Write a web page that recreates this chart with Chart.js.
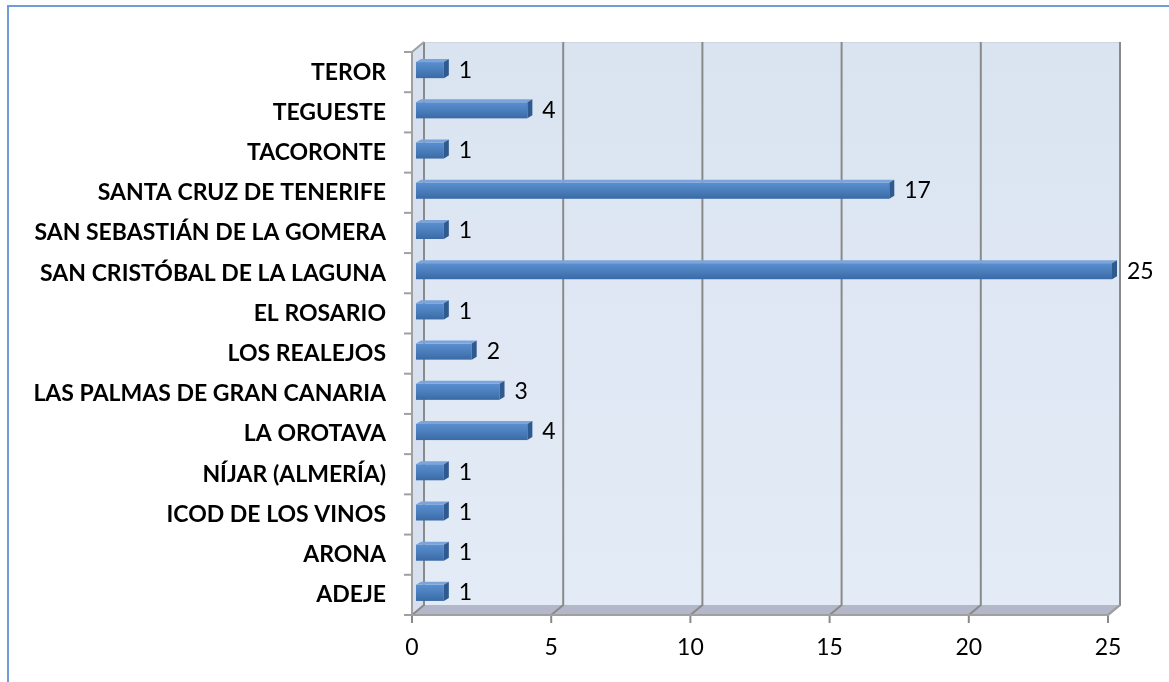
<!DOCTYPE html>
<html>
<head>
<meta charset="utf-8">
<script src="https://cdn.jsdelivr.net/npm/chart.js@4/dist/chart.umd.min.js"></script>
<style>
  body { margin: 0; background: #fff; }
  canvas { display: block; }
</style>
</head>
<body>
<canvas id="grafico" width="1169" height="682"></canvas>
<script>
// Datos (de arriba a abajo)
const municipios = [
  "TEROR", "TEGUESTE", "TACORONTE", "SANTA CRUZ DE TENERIFE",
  "SAN SEBASTIÁN DE LA GOMERA", "SAN CRISTÓBAL DE LA LAGUNA", "EL ROSARIO",
  "LOS REALEJOS", "LAS PALMAS DE GRAN CANARIA", "LA OROTAVA",
  "NÍJAR (ALMERÍA)", "ICOD DE LOS VINOS", "ARONA", "ADEJE"
];
const cantidades = [1, 4, 1, 17, 1, 25, 1, 2, 3, 4, 1, 1, 1, 1];
const ticksX = [0, 5, 10, 15, 20, 25];

// profundidad del "3D"
const PARED = { dx: 12, dy: -10 };
const BARRA = { ox: 4, oy: -2, dx: 5, dy: -3 };

const canvas = document.getElementById("grafico");
const ctx = canvas.getContext("2d");

// Marco, paredes, suelo y rejilla
const fondo3d = {
  id: "fondo3d",
  beforeDraw(chart) {
    const c = chart.ctx;
    c.save();
    c.strokeStyle = "#6f9bd6";
    c.lineWidth = 2;
    c.beginPath();
    c.moveTo(8, chart.height);
    c.lineTo(8, 6);
    c.lineTo(chart.width, 6);
    c.stroke();
    c.restore();
  },
  beforeDatasetsDraw(chart) {
    const c = chart.ctx;
    const a = chart.chartArea;
    const x = chart.scales.x;
    const y = chart.scales.y;
    const dx = PARED.dx, dy = PARED.dy;
    c.save();

    // pared del fondo
    const g = c.createLinearGradient(0, a.top + dy, 0, a.bottom + dy);
    g.addColorStop(0, "#dae4f1");
    g.addColorStop(1, "#e3ebf6");
    c.fillStyle = g;
    c.fillRect(a.left + dx, a.top + dy, a.right - a.left, a.bottom - a.top);
    c.strokeStyle = "#d0d4dc";
    c.lineWidth = 1;
    c.strokeRect(a.left + dx + 0.5, a.top + dy + 0.5, a.right - a.left, a.bottom - a.top);

    // pared izquierda
    c.fillStyle = "#d6e0ee";
    c.beginPath();
    c.moveTo(a.left, a.top);
    c.lineTo(a.left + dx, a.top + dy);
    c.lineTo(a.left + dx, a.bottom + dy);
    c.lineTo(a.left, a.bottom);
    c.closePath();
    c.fill();

    // suelo
    c.fillStyle = "#b3b7c9";
    c.beginPath();
    c.moveTo(a.left, a.bottom);
    c.lineTo(a.left + dx, a.bottom + dy);
    c.lineTo(a.right + dx, a.bottom + dy);
    c.lineTo(a.right, a.bottom);
    c.closePath();
    c.fill();

    // rejilla vertical
    c.strokeStyle = "#8a8a8a";
    c.lineWidth = 2;
    ticksX.forEach(v => {
      const px = x.getPixelForValue(v);
      c.beginPath();
      c.moveTo(px + dx, a.top + dy);
      c.lineTo(px + dx, a.bottom + dy);
      c.lineTo(px, a.bottom);
      c.stroke();
      // marca del eje
      c.beginPath();
      c.moveTo(px, a.bottom);
      c.lineTo(px, a.bottom + 8);
      c.stroke();
    });

    // borde delantero del suelo
    c.strokeStyle = "#a0a0a0";
    c.beginPath();
    c.moveTo(a.left, a.bottom);
    c.lineTo(a.right, a.bottom);
    c.lineTo(a.right + dx, a.bottom + dy);
    c.stroke();

    // borde de la pared izquierda + marcas
    c.beginPath();
    c.moveTo(a.left + dx, a.top + dy);
    c.lineTo(a.left, a.top);
    c.lineTo(a.left, a.bottom);
    c.stroke();
    for (let i = 0; i <= municipios.length; i++) {
      const py = y.getPixelForValue(i - 0.5);
      c.beginPath();
      c.moveTo(a.left - 8, py);
      c.lineTo(a.left, py);
      c.stroke();
    }
    c.restore();
  },
  afterDatasetsDraw(chart) {
    const c = chart.ctx;
    const meta = chart.getDatasetMeta(0);
    c.save();
    meta.data.forEach((el, i) => {
      const p = el.getProps(["x", "y", "base", "height"], true);
      const l = p.base + BARRA.ox;
      const r = p.x + BARRA.ox;
      const t = p.y - p.height / 2 + BARRA.oy;
      const b = p.y + p.height / 2 + BARRA.oy;

      // cara frontal
      const g = c.createLinearGradient(0, t, 0, b);
      g.addColorStop(0, "#5a8ed0");
      g.addColorStop(0.5, "#4a7ebb");
      g.addColorStop(1, "#3a6aa6");
      c.fillStyle = g;
      c.fillRect(l, t, r - l, b - t);

      // cara superior
      c.fillStyle = "#7aa4da";
      c.beginPath();
      c.moveTo(l, t);
      c.lineTo(l + BARRA.dx, t + BARRA.dy);
      c.lineTo(r + BARRA.dx, t + BARRA.dy);
      c.lineTo(r, t);
      c.closePath();
      c.fill();

      // cara lateral
      c.fillStyle = "#2e5a90";
      c.beginPath();
      c.moveTo(r, t);
      c.lineTo(r + BARRA.dx, t + BARRA.dy);
      c.lineTo(r + BARRA.dx, b + BARRA.dy);
      c.lineTo(r, b);
      c.closePath();
      c.fill();

      // etiqueta
      c.fillStyle = "#000";
      c.font = "23px Lato";
      c.textAlign = "left";
      c.textBaseline = "middle";
      c.fillText(String(cantidades[i]), r + 15, (t + b) / 2);
    });
    c.restore();
  }
};

const grafico = new Chart(ctx, {
  type: "bar",
  data: {
    labels: municipios,
    datasets: [{
      data: cantidades,
      backgroundColor: "rgba(0,0,0,0)",
      borderWidth: 0,
      barPercentage: 0.4,
      categoryPercentage: 1,
      clip: false
    }]
  },
  options: {
    indexAxis: "y",
    responsive: false,
    animation: false,
    layout: { padding: { left: 0, top: 52, right: 61, bottom: 0 } },
    plugins: {
      legend: { display: false },
      tooltip: { enabled: false }
    },
    scales: {
      x: {
        min: 0,
        max: 25,
        afterBuildTicks: s => { s.ticks = ticksX.map(v => ({ value: v })); },
        afterFit: s => { s.height = 67; },
        grid: { display: false, drawTicks: false },
        border: { display: false },
        ticks: { color: "#000", font: { family: "Lato", size: 23 }, padding: 19, maxRotation: 0 }
      },
      y: {
        afterFit: s => { s.width = 412; },
        grid: { display: false, drawTicks: false },
        border: { display: false },
        ticks: { color: "#000", font: { family: "Lato", size: 23, weight: "bold" }, padding: 26, autoSkip: false }
      }
    }
  },
  plugins: [fondo3d]
});
</script>
</body>
</html>
